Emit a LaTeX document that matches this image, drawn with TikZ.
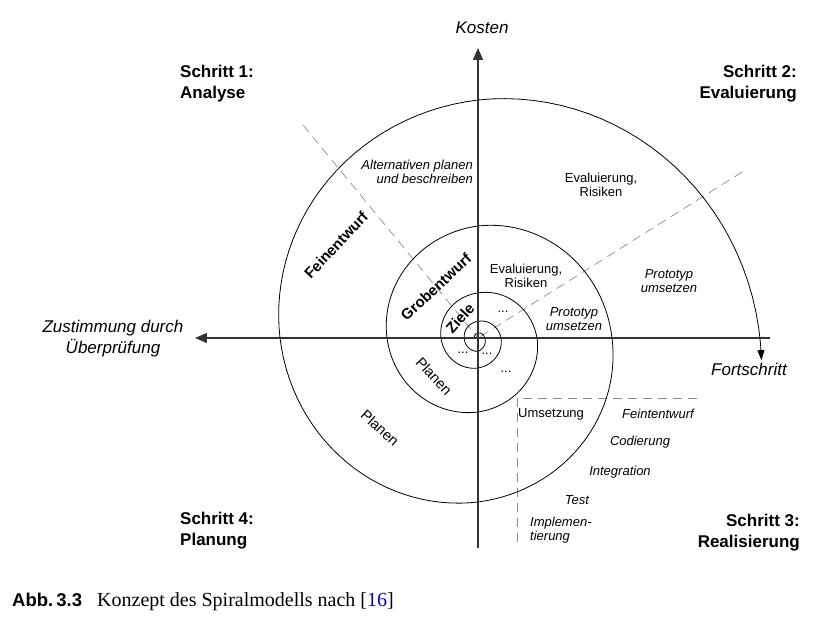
\documentclass[tikz,border=0pt]{standalone}
\usepackage{fontspec}
\setmainfont{Liberation Sans}
\newfontfamily\capserif{Liberation Serif}
\usetikzlibrary{arrows.meta}
\begin{document}
\begin{tikzpicture}[x=1pt,y=1pt,
  lbl/.style={font=\fontsize{13}{14.5}\selectfont, inner sep=0pt, align=center},
  ilbl/.style={font=\fontsize{13}{14.5}\selectfont\itshape, inner sep=0pt, align=center},
  axlbl/.style={font=\fontsize{17}{21}\selectfont\itshape, inner sep=0pt, align=center},
  steplbl/.style={font=\fontsize{17}{21}\selectfont\bfseries, inner sep=0pt},
  rlbl/.style={font=\fontsize{15}{16}\selectfont\bfseries, inner sep=0pt},
  plbl/.style={font=\fontsize{14.5}{16}\selectfont, inner sep=0pt},
  axis/.style={line width=1.3pt, black!80, -{Triangle[length=12pt,width=10pt]}},
  guide/.style={black!45, line width=0.7pt, dash pattern=on 9pt off 6pt},
  spiral/.style={black, line width=0.8pt}
]
\useasboundingbox (-478,-283) rectangle (346,338);

% guides
\coordinate (o) at (0,0);
\coordinate (g1) at (-175,213);
\coordinate (g2) at (264,166);
\coordinate (b1) at (219,-60);
\coordinate (b2) at (39,-60);
\coordinate (b3) at (39,-207);
\draw[guide] (g1) -- (o);
\draw[guide] (g2) -- (o);
\draw[guide] (b1) -- (b2) -- (b3);

% spiral
\foreach \a/\r/\b/\s in {540/3.5/450/5, 450/5/360/6.6, 360/6.6/270/13.4, 270/13.4/180/13.7,
  180/13.7/90/16.6, 90/16.6/0/23, 0/23/-90/30, -90/30/-180/37, -180/37/-270/45,
  -270/45/-360/59, -360/59/-450/74, -450/74/-540/91, -540/91/-630/112,
  -630/112/-720/134, -720/134/-810/164, -810/164/-900/198, -900/198/-990/238}
  \draw[spiral] plot[domain=0:1, samples=30, variable=\t]
    ({\a+(\b-\a)*\t}:{\r*exp(\t*ln(\s/\r))});
\draw[spiral, -{Triangle[length=10pt,width=7pt]}] plot[domain=0:1.05, samples=30, variable=\t]
    ({-990-90*\t}:{238*exp(\t*ln(282/238))});

% axes
\coordinate (xr) at (292,0);
\coordinate (xl) at (-283,0);
\coordinate (yb) at (0,-210);
\coordinate (yt) at (0,290);
\draw[axis] (xr) -- (xl);
\draw[axis] (yb) -- (yt);

% axis labels
\node[axlbl] (kosten) at (4,310) {Kosten};
\node[axlbl] (fort) at (271,-31) {Fortschritt};
\node[axlbl] (zust) at (-365,-0.5) {Zustimmung durch\\Überprüfung};

% steps
\node[steplbl, anchor=west, align=left] (s1) at (-298,254.5) {Schritt 1:\\Analyse};
\node[steplbl, anchor=east, align=right] (s2) at (319,254.5) {Schritt 2:\\Evaluierung};
\node[steplbl, anchor=west, align=left] (s4) at (-298,-192.5) {Schritt 4:\\Planung};
\node[steplbl, anchor=east, align=right] (s3) at (322,-194.5) {Schritt 3:\\Realisierung};

% region labels
\node[ilbl, anchor=east, align=right] (alt) at (-5,166) {Alternativen planen\\und beschreiben};
\node[lbl] (ev1) at (123,153) {Evaluierung,\\Risiken};
\node[ilbl] (pr1) at (191,57) {Prototyp\\umsetzen};
\node[lbl] (ev2) at (48,62) {Evaluierung,\\Risiken};
\node[ilbl] (pr2) at (96,19) {Prototyp\\umsetzen};
\node[lbl] (d1) at (25,26) {...};
\node[lbl] (d2) at (-15,-15) {...};
\node[lbl] (d3) at (9,-16) {...};
\node[lbl] (d4) at (28,-34) {...};

% rotated labels
\node[rlbl, rotate=47] (fein) at (-142,93) {Feinentwurf};
\node[rlbl, rotate=43] (grob) at (-42,51) {Grobentwurf};
\node[rlbl, rotate=48] (ziele) at (-18,20) {Ziele};
\node[plbl, rotate=-47] (pl1) at (-44,-38) {Planen};
\node[plbl, rotate=-42] (pl2) at (-98,-90) {Planen};

% realisation list
\node[lbl, anchor=west] (ums) at (40,-76) {Umsetzung};
\node[ilbl] (feint) at (180,-76) {Feintentwurf};
\node[ilbl] (cod) at (162,-104) {Codierung};
\node[ilbl] (integ) at (142,-134) {Integration};
\node[ilbl] (test) at (99,-162) {Test};
\node[ilbl, anchor=west, align=left] (impl) at (52,-192) {Implemen-\\tierung};

% caption
\node[anchor=base west, inner sep=0pt, font=\fontsize{18.5}{20}\selectfont\bfseries] (abb) at (-466,-268) {Abb.\,3.3};
\node[anchor=base west, inner sep=0pt, font=\capserif\fontsize{20}{22}\selectfont] (cap) at (-381,-268) {Konzept des Spiralmodells nach [{\color{blue!80!black}16}]};
\end{tikzpicture}
\end{document}
